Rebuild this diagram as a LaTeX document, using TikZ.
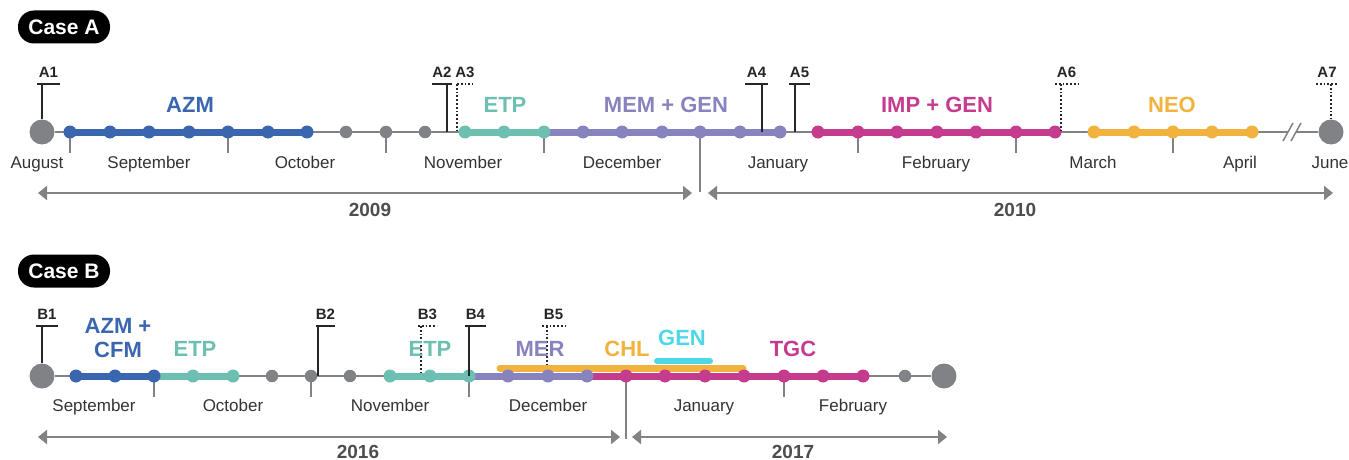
\documentclass[tikz,border=0pt]{standalone}
\usepackage{fontspec}
\setmainfont{Liberation Sans}
\usetikzlibrary{arrows.meta}
\definecolor{tlgray}{HTML}{808285}
\definecolor{azmblue}{HTML}{3A66B0}
\definecolor{etpteal}{HTML}{6DBFB2}
\definecolor{mempurple}{HTML}{8783BF}
\definecolor{impmagenta}{HTML}{C53C8E}
\definecolor{neoorange}{HTML}{F2B23E}
\definecolor{gencyan}{HTML}{4DD8EA}
\definecolor{yeargray}{HTML}{4D4D4D}

\tikzset{
  casebox/.style={rectangle, rounded corners=16pt, fill=black, text=white, minimum width=92pt, minimum height=33pt, inner sep=0pt, font=\bfseries\fontsize{21}{23}\selectfont},
  axis/.style={draw=tlgray, line width=2.5pt},
  seg/.style={line width=7pt},
  dot/.style={circle, inner sep=0pt, minimum size=13pt},
  graydot/.style={circle, inner sep=0pt, minimum size=12.5pt, fill=tlgray},
  bigdot/.style={circle, inner sep=0pt, minimum size=25pt, fill=tlgray},
  tick/.style={draw=tlgray, line width=2pt},
  solidflag/.style={draw=black!85, line width=1.8pt},
  dotflag/.style={draw=black!85, line width=1.8pt, dotted},
  flaglabel/.style={font=\bfseries\fontsize{15}{17}\selectfont, text=black!85},
  month/.style={anchor=base, font=\fontsize{17}{19}\selectfont, text=black!80},
  drug/.style={font=\bfseries\fontsize{22}{24}\selectfont, align=center},
  yeararrow/.style={draw=tlgray, line width=2.5pt, {Triangle[width=14pt,length=9pt]}-{Triangle[width=14pt,length=9pt]}},
  yearlabel/.style={font=\bfseries\fontsize{19}{21}\selectfont, text=yeargray}
}

\begin{document}
\begin{tikzpicture}[x=1pt,y=-1pt]
\useasboundingbox (0,0) rectangle (1349,460);

% ---------------- Case A ----------------
\node[casebox] (caseA) at (64,27) {Case A};

% Axis with start and end points
\node[bigdot] (aStart) at (42,132) {};
\node[bigdot] (aEnd) at (1331,132) {};
\draw[axis] (aStart) -- (aEnd);

% Month ticks and year divider
\foreach \x in {70,228,386,544,858,1016,1173}
  \draw[tick] (\x,132) -- (\x,153);
\coordinate (aDivTop) at (700,132);
\coordinate (aDivBot) at (700,192);
\draw[tick] (aDivTop) -- (aDivBot);

% Break mark before June
\fill[white] (1283,141) -- (1293,123) -- (1301,123) -- (1291,141) -- cycle;
\draw[tlgray, line width=1.5pt] (1283,141) -- (1293,123);
\draw[tlgray, line width=1.5pt] (1291,141) -- (1301,123);

% Treatment segments
\coordinate (azmS) at (70,132);   \coordinate (azmE) at (307,132);
\coordinate (etpS) at (465,132);  \coordinate (etpE) at (544,132);
\coordinate (memS) at (544,132);  \coordinate (memE) at (780,132);
\coordinate (impS) at (818,132);  \coordinate (impE) at (1055,132);
\coordinate (neoS) at (1094,132); \coordinate (neoE) at (1252,132);
\draw[seg, azmblue] (azmS) -- (azmE);
\draw[seg, etpteal] (etpS) -- (etpE);
\draw[seg, mempurple] (memS) -- (memE);
\draw[seg, impmagenta] (impS) -- (impE);
\draw[seg, neoorange] (neoS) -- (neoE);

% Dots
\foreach \x in {346,386,425}
  \node[graydot] at (\x,132) {};
\foreach \x in {70,110,149,189,228,268,307}
  \node[dot, fill=azmblue] at (\x,132) {};
\foreach \x in {465,504,544}
  \node[dot, fill=etpteal] at (\x,132) {};
\foreach \x in {583,622,662,700,740,780}
  \node[dot, fill=mempurple] at (\x,132) {};
\foreach \x in {818,858,897,937,976,1016,1055}
  \node[dot, fill=impmagenta] at (\x,132) {};
\foreach \x in {1094,1134,1173,1212,1252}
  \node[dot, fill=neoorange] at (\x,132) {};

% Sample flags
\foreach \x/\b/\l/\r/\txt/\sty in {42/119/37/60/A1/solidflag, 447/132/432/452/A2/solidflag, 457/132/457/473/A3/dotflag, 762/132/745/768/A4/solidflag, 795/132/789/810/A5/solidflag, 1061/132/1055/1078/A6/dotflag, 1331/119/1316/1338/A7/dotflag}{
  \draw[\sty] (\l,84) -- (\r,84);
  \draw[\sty] (\x,84) -- (\x,\b);
  \node[flaglabel] at ({(\l+\r)/2},72) {\txt};
}

% Drug labels
\node[drug, text=azmblue] (lAZM) at (190,105) {AZM};
\node[drug, text=etpteal] (lETPa) at (505,105) {ETP};
\node[drug, text=mempurple] (lMEM) at (666,105) {MEM + GEN};
\node[drug, text=impmagenta] (lIMP) at (937,105) {IMP + GEN};
\node[drug, text=neoorange] (lNEO) at (1172,105) {NEO};

% Month labels
\foreach \x/\m in {37/August, 149/September, 305/October, 463/November, 622/December, 778/January, 936/February, 1093/March, 1240/April, 1330/June}
  \node[month] at (\x,168) {\m};

% Years
\coordinate (y09L) at (38,193);  \coordinate (y09R) at (692,193);
\coordinate (y10L) at (708,193); \coordinate (y10R) at (1333,193);
\draw[yeararrow] (y09L) -- (y09R);
\draw[yeararrow] (y10L) -- (y10R);
\node[yearlabel] (l2009) at (370,210) {2009};
\node[yearlabel] (l2010) at (1015,210) {2010};

% ---------------- Case B ----------------
\node[casebox] (caseB) at (64,271) {Case B};

% Axis with start and end points
\node[bigdot] (bStart) at (42,376) {};
\node[bigdot] (bEnd) at (944,376) {};
\draw[axis] (bStart) -- (bEnd);

% Month ticks and year divider
\foreach \x in {154,311,469,784}
  \draw[tick] (\x,376) -- (\x,397);
\coordinate (bDivTop) at (626,376);
\coordinate (bDivBot) at (626,439);
\draw[tick] (bDivTop) -- (bDivBot);

% Overlapping bars above the axis
\coordinate (chlS) at (500,368); \coordinate (chlE) at (743,368);
\coordinate (genS) at (657,361); \coordinate (genE) at (710,361);
\draw[line width=7pt, neoorange, line cap=round] (chlS) -- (chlE);
\draw[line width=6pt, gencyan, line cap=round] (genS) -- (genE);

% Treatment segments
\coordinate (bazmS) at (76,376);   \coordinate (bazmE) at (154,376);
\coordinate (betpS) at (154,376);  \coordinate (betpE) at (233,376);
\coordinate (cetpS) at (390,376);  \coordinate (cetpE) at (469,376);
\coordinate (merS) at (469,376);   \coordinate (merE) at (587,376);
\coordinate (tgcS) at (587,376);   \coordinate (tgcE) at (863,376);
\draw[seg, azmblue] (bazmS) -- (bazmE);
\draw[seg, etpteal] (betpS) -- (betpE);
\draw[seg, etpteal] (cetpS) -- (cetpE);
\draw[seg, mempurple] (merS) -- (merE);
\draw[seg, impmagenta] (tgcS) -- (tgcE);

% Dots
\foreach \x in {272,311,350,905}
  \node[graydot] at (\x,376) {};
\foreach \x in {76,115,154}
  \node[dot, fill=azmblue] at (\x,376) {};
\foreach \x in {193,233,390,430,469}
  \node[dot, fill=etpteal] at (\x,376) {};
\foreach \x in {508,548,587}
  \node[dot, fill=mempurple] at (\x,376) {};
\foreach \x in {626,665,705,744,784,823,863}
  \node[dot, fill=impmagenta] at (\x,376) {};

% Sample flags
\foreach \x/\b/\l/\r/\txt/\sty in {42/363/36/58/B1/solidflag, 318/376/316/335/B2/solidflag, 421/372/418/437/B3/dotflag, 469/376/465/486/B4/solidflag, 547/365/542/565/B5/dotflag}{
  \draw[\sty] (\l,326) -- (\r,326);
  \draw[\sty] (\x,326) -- (\x,\b);
  \node[flaglabel] at ({(\l+\r)/2},314) {\txt};
}

% Drug labels
\node[drug, text=azmblue] (lAZMb) at (118,338) {AZM +\\CFM};
\node[drug, text=etpteal] (lETPb) at (195,349) {ETP};
\node[drug, text=etpteal] (lETPc) at (430,349) {ETP};
\node[drug, text=mempurple] (lMER) at (540,349) {MER};
\node[drug, text=neoorange] (lCHL) at (627,349) {CHL};
\node[drug, text=gencyan] (lGEN) at (682,338) {GEN};
\node[drug, text=impmagenta] (lTGC) at (793,349) {TGC};

% Month labels
\foreach \x/\m in {94/September, 233/October, 390/November, 548/December, 704/January, 853/February}
  \node[month] at (\x,411) {\m};

% Years
\coordinate (y16L) at (38,437);  \coordinate (y16R) at (620,437);
\coordinate (y17L) at (632,437); \coordinate (y17R) at (947,437);
\draw[yeararrow] (y16L) -- (y16R);
\draw[yeararrow] (y17L) -- (y17R);
\node[yearlabel] (l2016) at (358,452) {2016};
\node[yearlabel] (l2017) at (793,452) {2017};
\end{tikzpicture}
\end{document}
